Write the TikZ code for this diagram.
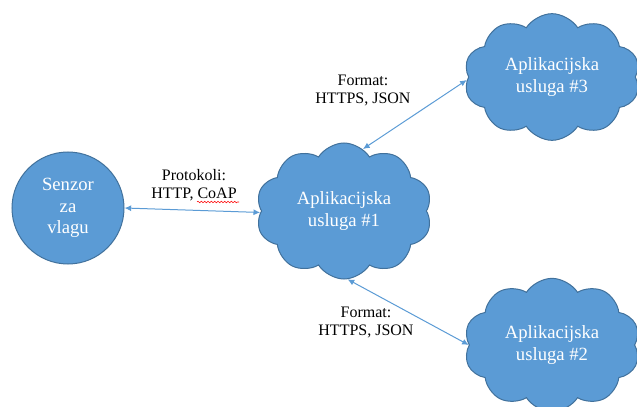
\documentclass[tikz,border=0pt]{standalone}
\usepackage{fontspec}
\setmainfont{Liberation Serif}
\usetikzlibrary{shapes.symbols,arrows.meta,decorations.pathmorphing}
\definecolor{fillblue}{HTML}{5B9BD5}
\definecolor{edgeblue}{HTML}{41719C}
\definecolor{arrowblue}{HTML}{5B9BD5}
\begin{document}
\begin{tikzpicture}[x=0.75pt,y=-0.75pt,
  cloudnode/.style={cloud, cloud puffs=10, cloud puff arc=115, cloud ignores aspect, fill=fillblue, draw=edgeblue,
    line width=0.75pt, minimum width=132pt, minimum height=102pt, text=white, align=center,
    font=\fontsize{14}{16.5}\selectfont, inner sep=0pt},
  sensornode/.style={circle, fill=fillblue, draw=edgeblue, line width=0.75pt, minimum size=84pt,
    text=white, align=center, font=\fontsize{14}{16}\selectfont, inner sep=0pt},
  lbl/.style={align=center, text=black, font=\fontsize{12}{13.5}\selectfont, inner sep=0pt},
  link/.style={{Latex[length=5pt,width=4.5pt]}-{Latex[length=5pt,width=4.5pt]}, draw=arrowblue, line width=0.75pt}
]
\useasboundingbox (0,0) rectangle (637,407);
\clip (0,0) rectangle (637,407);

\node[sensornode] (s) at (68,208) {Senzor\\za\\vlagu};
\node[cloudnode] (c1) at (344,211) {Aplikacijska\\usluga \#1};
\node[cloudnode, minimum height=95pt] (c3) at (552,77) {Aplikacijska\\usluga \#3};
\node[cloudnode, minimum height=100pt] (c2) at (552,345) {Aplikacijska\\usluga \#2};

\draw[link] (s.east) -- (c1.181);
\draw[link] (c1.73) -- (c3.182);
\draw[link] (c1.-87) -- (c2.180);

\node[lbl] (l1) at (194,185) {Protokoli:\\HTTP, CoAP};
\node[lbl] (l2) at (363,90) {Format:\\HTTPS, JSON};
\node[lbl] (l3) at (366,322) {Format:\\HTTPS, JSON};

\draw[red, line width=0.4pt, decorate, decoration={snake, amplitude=0.6pt, segment length=2.5pt}]
  (197,202) -- (239,202);
\end{tikzpicture}
\end{document}
